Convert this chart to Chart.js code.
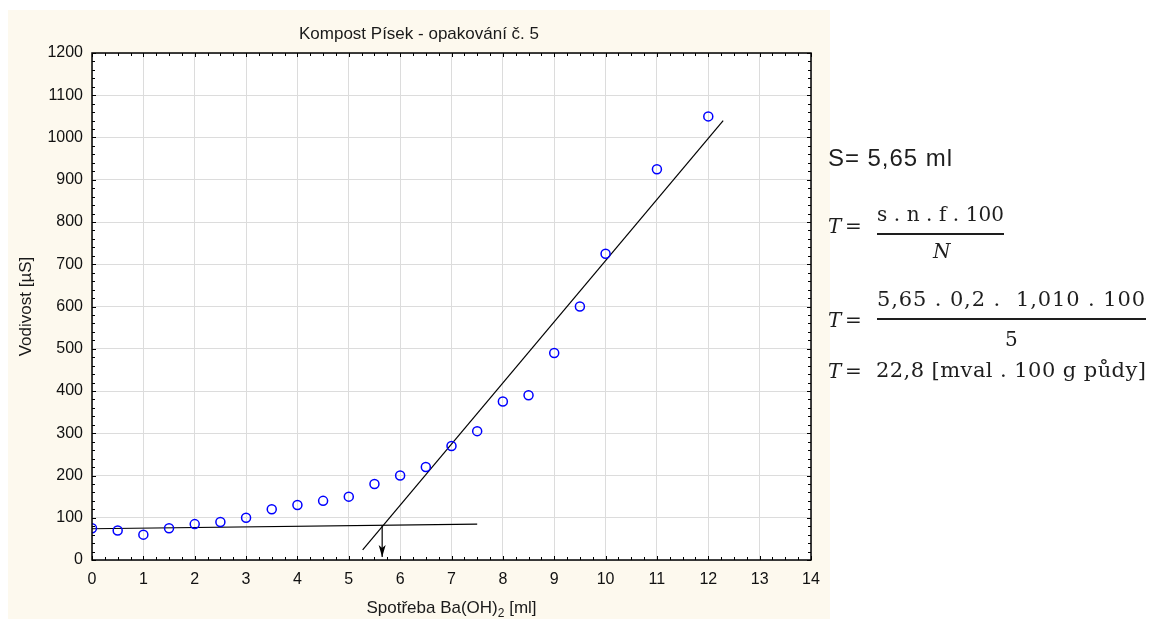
<!DOCTYPE html>
<html>
<head>
<meta charset="utf-8">
<script src="https://cdn.jsdelivr.net/npm/chart.js@4"></script>
<style>
  body { margin: 0; background: #fff; }
  #wrap { position: relative; width: 1153px; height: 619px; overflow: hidden; }
  #chartBox { position: absolute; left: 8px; top: 10px; }
  .t { position: absolute; white-space: pre; line-height: 1; color: #1e1e1e; }
  .bar { position: absolute; height: 1.5px; background: #1e1e1e; }
</style>
</head>
<body>
<div id="wrap">
  <div id="chartBox"><canvas id="myChart" width="822" height="609"></canvas></div>
  <div id="notes"></div>
</div>
<script>
// data
const titleText = "Kompost Písek - opakování č. 5";
const xTitle = ["Spotřeba Ba(OH)", "2", " [ml]"];
const yTitle = "Vodivost [µS]";

const baVolume = [0, 0.5, 1, 1.5, 2, 2.5, 3, 3.5, 4, 4.5, 5, 5.5, 6, 6.5, 7, 7.5, 8, 8.5, 9, 9.5, 10, 11, 12];
const conductivity = [75, 70, 60, 75, 85, 90, 100, 120, 130, 140, 150, 180, 200, 220, 270, 305, 375, 390, 490, 600, 725, 925, 1050];

// fitted lines (end points)
const flatLineX = [0, 7.5];
const flatLineY = [74, 85];
const steepLineX = [5.27, 12.29];
const steepLineY = [24, 1040];

// equivalence point and arrow
const sValue = 5.65;
const arrowY = [82, 7];

const xMin = 0, xMax = 14, xStep = 1, xMinor = 0.25;
const yMin = 0, yMax = 1200, yStep = 100, yMinor = 20;

const toPoints = (xs, ys) => xs.map((x, i) => ({ x: x, y: ys[i] }));

// frame, minor ticks, arrow head and titles
const framePlugin = {
  id: "frame",
  beforeDraw(chart) {
    const c = chart.ctx, a = chart.chartArea;
    c.save();
    c.fillStyle = "#fdf9ee";
    c.fillRect(0, 0, chart.width, chart.height);
    c.fillStyle = "#ffffff";
    c.fillRect(a.left, a.top, a.right - a.left, a.bottom - a.top);
    c.restore();
  },
  afterDatasetsDraw(chart) {
    const c = chart.ctx, a = chart.chartArea;
    const xs = chart.scales.x, ys = chart.scales.y;
    c.save();
    c.strokeStyle = "#000";
    c.lineWidth = 1;
    c.beginPath();
    for (let v = xMin; v <= xMax + 1e-9; v += xMinor) {
      const len = Math.abs(v - Math.round(v)) < 1e-9 ? 4 : 3;
      const px = Math.round(xs.getPixelForValue(v)) + 0.5;
      c.moveTo(px, a.bottom); c.lineTo(px, a.bottom - len);
      c.moveTo(px, a.top); c.lineTo(px, a.top + len);
    }
    for (let v = yMin; v <= yMax + 1e-9; v += yMinor) {
      const len = v % yStep === 0 ? 4 : 3;
      const py = Math.round(ys.getPixelForValue(v)) + 0.5;
      c.moveTo(a.left, py); c.lineTo(a.left + len, py);
      c.moveTo(a.right, py); c.lineTo(a.right - len, py);
    }
    c.stroke();

    c.lineWidth = 1.5;
    c.strokeRect(a.left, a.top, a.right - a.left, a.bottom - a.top);

    // arrow head
    const ax = xs.getPixelForValue(sValue);
    const ay = ys.getPixelForValue(arrowY[1]);
    c.fillStyle = "#000";
    c.beginPath();
    c.moveTo(ax, ay);
    c.lineTo(ax - 3.5, ay - 12);
    c.lineTo(ax, ay - 9);
    c.lineTo(ax + 3.5, ay - 12);
    c.closePath();
    c.fill();

    // titles
    c.fillStyle = "#1a1a1a";
    c.font = '17px "Liberation Sans", Arial, sans-serif';
    c.textAlign = "center";
    c.textBaseline = "alphabetic";
    c.fillText(titleText, chart.width / 2, 29);

    const w0 = c.measureText(xTitle[0]).width;
    const w2 = c.measureText(xTitle[2]).width;
    c.font = '12px "Liberation Sans", Arial, sans-serif';
    const w1 = c.measureText(xTitle[1]).width;
    const cx = (a.left + a.right) / 2;
    let sx = cx - (w0 + w1 + w2) / 2;
    const base = 603;
    c.textAlign = "left";
    c.font = '17px "Liberation Sans", Arial, sans-serif';
    c.fillText(xTitle[0], sx, base);
    c.font = '12px "Liberation Sans", Arial, sans-serif';
    c.fillText(xTitle[1], sx + w0, base + 4);
    c.font = '17px "Liberation Sans", Arial, sans-serif';
    c.fillText(xTitle[2], sx + w0 + w1, base);

    c.translate(23, (a.top + a.bottom) / 2);
    c.rotate(-Math.PI / 2);
    c.textAlign = "center";
    c.fillText(yTitle, 0, 0);
    c.restore();
  }
};

const ctx = document.getElementById("myChart").getContext("2d");
const myChart = new Chart(ctx, {
  type: "scatter",
  data: {
    datasets: [
      {
        label: "Vodivost",
        data: toPoints(baVolume, conductivity),
        pointStyle: "circle",
        pointRadius: 4.5,
        pointHoverRadius: 4.5,
        borderWidth: 1.5,
        borderColor: "#0000ff",
        backgroundColor: "rgba(0,0,0,0)",
        showLine: false,
      },
      {
        label: "flat",
        data: toPoints(flatLineX, flatLineY),
        showLine: true,
        borderColor: "#000",
        borderWidth: 1.2,
        pointRadius: 0,
      },
      {
        label: "steep",
        data: toPoints(steepLineX, steepLineY),
        showLine: true,
        borderColor: "#000",
        borderWidth: 1.2,
        pointRadius: 0,
      },
      {
        label: "arrow",
        data: toPoints([sValue, sValue], arrowY),
        showLine: true,
        borderColor: "#000",
        borderWidth: 1.2,
        pointRadius: 0,
      },
    ],
  },
  options: {
    responsive: false,
    animation: false,
    devicePixelRatio: 1,
    events: [],
    layout: { padding: { top: 43, right: 19, left: 0, bottom: 0 } },
    plugins: {
      legend: { display: false },
      title: { display: false },
      tooltip: { enabled: false },
    },
    scales: {
      x: {
        type: "linear",
        min: xMin,
        max: xMax,
        afterFit: (s) => { s.height = 59; },
        grid: { color: "#dcdcdc", lineWidth: 1, drawTicks: false },
        border: { display: false },
        ticks: {
          stepSize: xStep,
          padding: 10,
          maxRotation: 0,
          autoSkip: false,
          color: "#111",
          font: { family: '"Liberation Sans", Arial, sans-serif', size: 16 },
          callback: (v) => String(v),
        },
      },
      y: {
        type: "linear",
        min: yMin,
        max: yMax,
        afterFit: (s) => { s.width = 84; },
        grid: { color: "#dcdcdc", lineWidth: 1, drawTicks: false },
        border: { display: false },
        ticks: {
          stepSize: yStep,
          padding: 9,
          autoSkip: false,
          color: "#111",
          font: { family: '"Liberation Sans", Arial, sans-serif', size: 16 },
          callback: (v) => String(v),
        },
      },
    },
  },
  plugins: [framePlugin],
});

// formula notes to the right of the chart
const SANS = '"Liberation Sans", Arial, sans-serif';
const SERIF = '"DejaVu Serif", "Liberation Serif", serif';
// [text, left, baseline, family, size, italic, width to fill (0 = natural)]
const noteTokens = [
  ["S= 5,65 ml", 828, 166, SANS, 24, false, 124],
  ["T", 828, 233, SERIF, 20, true, 0],
  ["=", 845, 233, SERIF, 20, false, 0],
  ["s . n . f . 100", 877, 221, SERIF, 20, false, 127],
  ["N", 933, 258, SERIF, 20, true, 0],
  ["T", 828, 327, SERIF, 20, true, 0],
  ["=", 845, 327, SERIF, 20, false, 0],
  ["5,65 . 0,2 .  1,010 . 100", 877, 307, SERIF, 21, false, 268],
  ["5", 1005, 346, SERIF, 20, false, 0],
  ["T", 828, 378, SERIF, 20, true, 0],
  ["=", 845, 378, SERIF, 20, false, 0],
  ["22,8 [mval . 100 g půdy]", 876, 378, SERIF, 21, false, 270],
];
// fraction bars: [left, top, width]
const fractionBars = [
  [877, 233, 127],
  [877, 318, 269],
];

const notes = document.getElementById("notes");
noteTokens.forEach(([text, x, baseline, family, size, italic, fill]) => {
  const d = document.createElement("div");
  d.className = "t";
  d.textContent = text;
  d.style.fontFamily = family;
  d.style.fontSize = size + "px";
  d.style.fontStyle = italic ? "italic" : "normal";
  const asc = family === SANS ? 0.8465 : 0.846;
  d.style.left = x + "px";
  d.style.top = (baseline - asc * size) + "px";
  notes.appendChild(d);
  if (fill) {
    const w = d.getBoundingClientRect().width;
    const n = text.length - 1;
    if (n > 0) d.style.letterSpacing = ((fill - w) / n) + "px";
  }
});
fractionBars.forEach(([x, y, w]) => {
  const b = document.createElement("div");
  b.className = "bar";
  b.style.left = x + "px";
  b.style.top = y + "px";
  b.style.width = w + "px";
  notes.appendChild(b);
});
</script>
</body>
</html>
